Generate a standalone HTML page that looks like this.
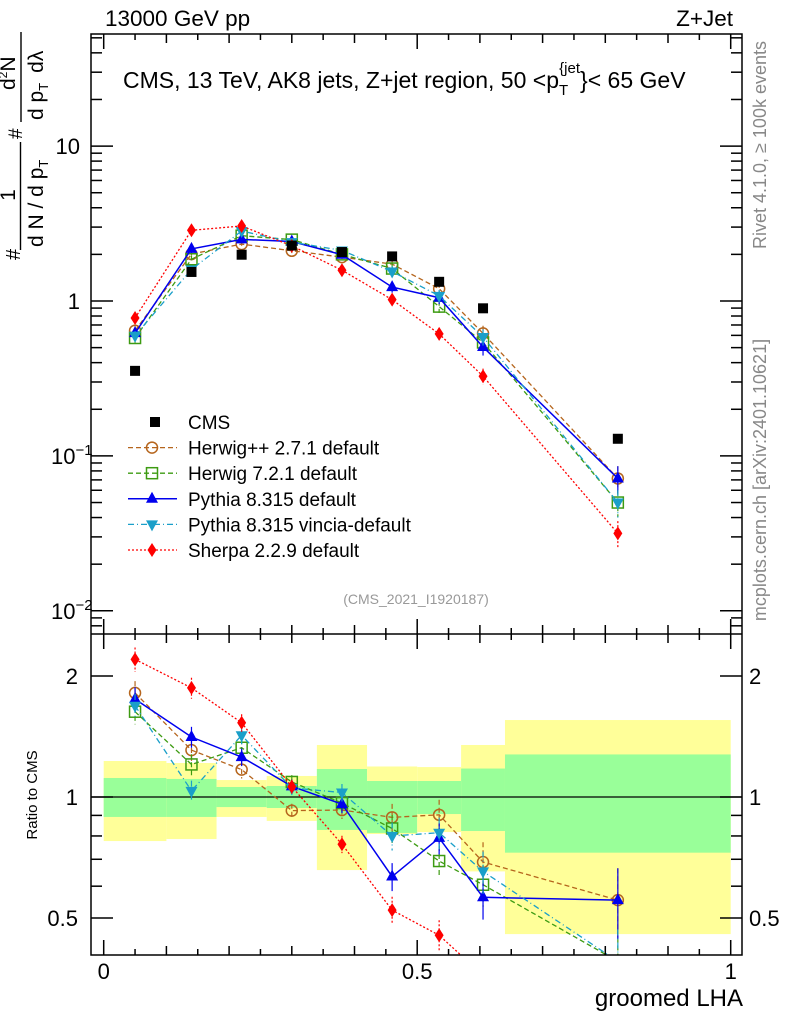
<!DOCTYPE html>
<html><head><meta charset="utf-8"><style>
html,body{margin:0;padding:0;background:#fff;overflow:hidden;width:786px;height:1024px}
svg{display:block;font-family:"Liberation Sans",sans-serif}
</style></head><body>
<svg id="c" width="786" height="1024" viewBox="0 0 786 1024"></svg>
<script>
const xCenters=[0.05,0.14,0.22,0.30,0.38,0.46,0.535,0.605,0.82];
const binEdges=[0,0.1,0.18,0.26,0.34,0.42,0.5,0.57,0.64,1.0];
const cmsVals=[0.354,1.54,1.99,2.28,2.07,1.94,1.33,0.897,0.129];
const herwigppVals=[0.643,2.01,2.33,2.11,1.92,1.73,1.20,0.618,0.0715];
const herwig7Vals=[0.577,1.86,2.64,2.49,2.00,1.62,0.92,0.54,0.050];
const pythiaVals=[0.62,2.17,2.50,2.42,1.99,1.23,1.05,0.505,0.0715];
const vinciaVals=[0.597,1.60,2.83,2.40,2.12,1.55,1.08,0.586,0.050];
const sherpaVals=[0.777,2.86,3.05,2.27,1.58,1.02,0.613,0.327,0.0316];
const herwigppRatio=[1.815,1.308,1.17,0.925,0.928,0.890,0.903,0.689,0.554];
const herwig7Ratio=[1.63,1.205,1.326,1.09,0.966,0.835,0.693,0.605,0.39];
const pythiaRatio=[1.752,1.41,1.257,1.063,0.96,0.634,0.791,0.563,0.554];
const vinciaRatio=[1.687,1.036,1.424,1.053,1.026,0.80,0.815,0.653,0.39];
const sherpaRatio=[2.20,1.868,1.53,1.061,0.763,0.523,0.453,0.36,0.24];
const mcRelErr=[0.07,0.06,0.05,0.04,0.05,0.08,0.09,0.12,0.2];
const yellowHi=[1.229,1.215,1.102,1.128,1.347,1.191,1.187,1.347,1.554];
const yellowLo=[0.777,0.786,0.892,0.872,0.658,0.809,0.818,0.653,0.456];
const greenHi=[1.115,1.109,1.059,1.065,1.174,1.096,1.096,1.177,1.276];
const greenLo=[0.892,0.892,0.944,0.939,0.828,0.814,0.907,0.823,0.727];
const mainTicks=[{v:10,t:"10"},{v:1,t:"1"}];

const svg=document.getElementById('c');
const NS='http://www.w3.org/2000/svg';
function mk(tag,attrs,parent){const e=document.createElementNS(NS,tag);for(const k in attrs)e.setAttribute(k,attrs[k]);(parent||svg).appendChild(e);return e;}
const L=91,R=742,T=34,MB=634,RB=955;
const X=v=>103.7+627*v;
const Y=v=>301-154.9*Math.log10(v);
const YR=r=>797-402*Math.log10(r);

const defs=mk('defs',{});
const c1=mk('clipPath',{id:'cm'},defs);mk('rect',{x:L,y:T,width:R-L,height:MB-T},c1);
const c2=mk('clipPath',{id:'cr'},defs);mk('rect',{x:L,y:MB,width:R-L,height:RB-MB},c2);

const bands=mk('g',{'clip-path':'url(#cr)'});


for(let i=0;i<xCenters.length;i++){
  const x0=X(binEdges[i]),x1=X(binEdges[i+1]);
  const y=mk('rect',{x:x0,y:YR(yellowHi[i]),width:x1-x0,height:YR(yellowLo[i])-YR(yellowHi[i]),fill:'#ffff99'},bands);
  
  
  const g=mk('rect',{x:x0,y:YR(greenHi[i]),width:x1-x0,height:YR(greenLo[i])-YR(greenHi[i]),fill:'#99ff99'},bands);
  
  
}
mk('line',{x1:L,x2:R,y1:YR(1),y2:YR(1),stroke:'#000','stroke-width':1.3},bands);

const series=[
 {name:'herwigpp',label:'Herwig++ 2.7.1 default',col:'#b5651d',dash:'5,3',w:1.3,mk:'circle',vals:herwigppVals,ratio:herwigppRatio},
 {name:'herwig7',label:'Herwig 7.2.1 default',col:'#3d9b12',dash:'5,3',w:1.3,mk:'square',vals:herwig7Vals,ratio:herwig7Ratio},
 {name:'pythia',label:'Pythia 8.315 default',col:'#0000ee',dash:'',w:1.5,mk:'tri',vals:pythiaVals,ratio:pythiaRatio},
 {name:'vincia',label:'Pythia 8.315 vincia-default',col:'#1a9fc9',dash:'6,3,1,3',w:1.3,mk:'tridown',vals:vinciaVals,ratio:vinciaRatio},
 {name:'sherpa',label:'Sherpa 2.2.9 default',col:'#ff0000',dash:'2,2',w:1.3,mk:'diamond',vals:sherpaVals,ratio:sherpaRatio}
];
function marker(type,x,y,col,g){
  if(type==='circle')return mk('circle',{cx:x,cy:y,r:5.5,fill:'none',stroke:col,'stroke-width':1.5},g);
  if(type==='square')return mk('rect',{x:x-5.5,y:y-5.5,width:11,height:11,fill:'none',stroke:col,'stroke-width':1.5},g);
  if(type==='tri')return mk('polygon',{points:`${x},${y-7} ${x-6},${y+4} ${x+6},${y+4}`,fill:col},g);
  if(type==='tridown')return mk('polygon',{points:`${x},${y+7} ${x-6},${y-4} ${x+6},${y-4}`,fill:col},g);
  if(type==='diamond')return mk('polygon',{points:`${x},${y-7} ${x-4.5},${y} ${x},${y+7} ${x+4.5},${y}`,fill:col},g);
  if(type==='sq')return mk('rect',{x:x-5,y:y-5,width:10,height:10,fill:'#000'},g);
}
function drawSeries(s,vals,yf,clip,panel){
  const g=mk('g',{'clip-path':clip});
  
  
  const pts=vals.map((v,i)=>X(xCenters[i])+','+yf(v)).join(' ');
  mk('polyline',{points:pts,fill:'none',stroke:s.col,'stroke-width':s.w,'stroke-dasharray':s.dash},g);
  vals.forEach((v,i)=>{
    const x=X(xCenters[i]);
    mk('line',{x1:x,x2:x,y1:yf(v*(1+mcRelErr[i])),y2:yf(v*(1-mcRelErr[i])),stroke:s.col,'stroke-width':1.2,'stroke-dasharray':s.dash},g);
    const m=marker(s.mk,x,yf(v),s.col,g);
    
    
  });
}
series.forEach(s=>drawSeries(s,s.vals,Y,'url(#cm)','main'));
series.forEach(s=>drawSeries(s,s.ratio,YR,'url(#cr)','ratio'));
const cg=mk('g',{'clip-path':'url(#cm)'});


cmsVals.forEach((v,i)=>{const m=marker('sq',X(xCenters[i]),Y(v),'#000',cg);
  
  });

const ax=mk('g',{stroke:'#000','stroke-width':1.5,fill:'none'});


mk('rect',{x:L,y:T,width:R-L,height:RB-T},ax);
mk('line',{x1:L,x2:R,y1:MB,y2:MB},ax);
for(let k=0;k<=20;k++){const v=k*0.05,x=X(v),maj=k%10===0,len=maj?15:(k%2===0?9:6);
  [T,MB].forEach(y=>mk('line',{x1:x,x2:x,y1:y,y2:y+len},ax));
  [MB,RB].forEach(y=>mk('line',{x1:x,x2:x,y1:y,y2:y-len},ax));}
for(let d=-3;d<=1;d++)for(let m=1;m<10;m++){const v=m*Math.pow(10,d),y=Y(v);if(y<T||y>MB)continue;
  const len=m===1?22:11;mk('line',{x1:L,x2:L+len,y1:y,y2:y},ax);mk('line',{x1:R,x2:R-len,y1:y,y2:y},ax);}
for(let d=-1;d<=0;d++)for(let m=1;m<10;m++){const v=m*Math.pow(10,d),y=YR(v);if(y<MB||y>RB)continue;
  const len=(v===1||v===2||v===0.5)?22:11;mk('line',{x1:L,x2:L+len,y1:y,y2:y},ax);mk('line',{x1:R,x2:R-len,y1:y,y2:y},ax);}

function txt(s,x,y,o,name,parent){const e=mk('text',Object.assign({x:x,y:y,'font-size':19,fill:'#000'},o||{}),parent);e.textContent=s;
  return e;}
txt('0',X(0),979,{'text-anchor':'middle','font-size':22},'x-tick-label');
txt('0.5',X(0.5),979,{'text-anchor':'middle','font-size':22},'x-tick-label');
txt('1',X(1),979,{'text-anchor':'middle','font-size':22},'x-tick-label');
txt('groomed LHA',743,1006,{'text-anchor':'end','font-size':24},'x-axis-title');
mainTicks.forEach(t=>txt(t.t,80,Y(t.v)+8,{'text-anchor':'end','font-size':22},'y-tick-label'));
const e1=txt('10',51,Y(0.1)+8,{'font-size':22},'y-tick-label');const s1=mk('tspan',{dy:-9,'font-size':15},e1);s1.textContent='−1';
const e2=txt('10',51,Y(0.01)+8,{'font-size':22},'y-tick-label');const s2=mk('tspan',{dy:-9,'font-size':15},e2);s2.textContent='−2';
[[2,'2'],[1,'1'],[0.5,'0.5']].forEach(([v,t])=>{txt(t,78,YR(v)+8,{'text-anchor':'end','font-size':22},'ratio-tick-label');
  txt(t,749,YR(v)+8,{'font-size':22},'ratio-tick-label');});
txt('13000 GeV pp',105,26,{'font-size':22.5},'energy-label');
txt('Z+Jet',733,26,{'text-anchor':'end','font-size':22.5},'process-label');
const tt=txt('CMS, 13 TeV, AK8 jets, Z+jet region, 50 <p',123,88,{'font-size':23},'plot-title');
const ts=mk('tspan',{dy:7,'font-size':15},tt);ts.textContent='T';
const ts2=mk('tspan',{dy:-22,dx:-9,'font-size':15},tt);ts2.textContent='{jet';
const ts3=mk('tspan',{dy:15,'font-size':23},tt);ts3.textContent='}< 65 GeV';
txt('(CMS_2021_I1920187)',416,604,{'text-anchor':'middle','font-size':14,fill:'#999'},'analysis-id');
txt('Rivet 4.1.0, ≥ 100k events',0,0,{'font-size':18,fill:'#888','text-anchor':'middle',transform:'translate(766,145) rotate(-90)'},'rivet-label');
txt('mcplots.cern.ch [arXiv:2401.10621]',0,0,{'font-size':18,fill:'#888','text-anchor':'middle',transform:'translate(766,480) rotate(-90)'},'mcplots-label');
txt('Ratio to CMS',0,0,{'font-size':15,'text-anchor':'middle',transform:'translate(37,795) rotate(-90)'},'ratio-y-title');
// y-axis title in rotated frame: screen x = ly, screen y = 280 - lx
const yt=mk('g',{transform:'translate(0,280) rotate(-90)'});


txt('#',20,20,{'font-size':20},'y-title-part',yt);
txt('1',85,15,{'font-size':21,'text-anchor':'middle'},'y-title-part',yt);
mk('line',{x1:30,x2:138,y1:20.5,y2:20.5,stroke:'#000','stroke-width':1.4},yt);
const dn=txt('d N / d p',33,43,{'font-size':21},'y-title-part',yt);
const dnt=mk('tspan',{dy:5,'font-size':13},dn);dnt.textContent='T';
txt('#',141,22,{'font-size':19},'y-title-part',yt);
mk('line',{x1:158,x2:248,y1:21,y2:21,stroke:'#000','stroke-width':1.4},yt);
const d2=txt('d',190,15,{'font-size':21},'y-title-part',yt);
const d2s=mk('tspan',{dy:-8,'font-size':12},d2);d2s.textContent='2';
const d2n=mk('tspan',{dy:8,'font-size':21},d2);d2n.textContent='N';
const dp=txt('d p',160,43,{'font-size':21},'y-title-part',yt);
const dpt=mk('tspan',{dy:5,'font-size':13},dp);dpt.textContent='T';
const dpl=mk('tspan',{dy:-5,dx:10,'font-size':21},dp);dpl.textContent='dλ';
// legend
const lg=mk('g',{});


const ly0=422,ldy=25.6;
marker('sq',155,ly0,'#000',lg);
txt('CMS',188,ly0+7,{'font-size':19},'legend-entry');
series.forEach((s,i)=>{const y=ly0+ldy*(i+1);
  mk('line',{x1:128,x2:177,y1:y,y2:y,stroke:s.col,'stroke-width':s.w,'stroke-dasharray':s.dash},lg);
  marker(s.mk,152,y,s.col,lg);
  txt(s.label,188,y+7,{'font-size':19},'legend-entry');});
</script>
</body></html>
